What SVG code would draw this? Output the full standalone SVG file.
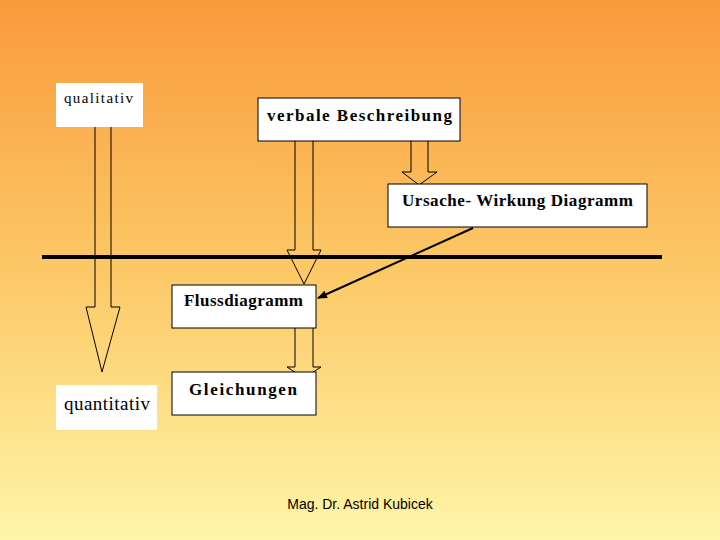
<svg xmlns="http://www.w3.org/2000/svg" width="720" height="540" viewBox="0 0 720 540">
<defs>
<linearGradient id="bg" x1="0" y1="0" x2="0" y2="1">
<stop offset="0" stop-color="#f99a3c"/>
<stop offset="0.5" stop-color="#fcc866"/>
<stop offset="1" stop-color="#fff5a8"/>
</linearGradient>
<marker id="ah" markerWidth="10" markerHeight="8" refX="9" refY="4" orient="auto" markerUnits="userSpaceOnUse">
<path d="M0,0 L10,4 L0,8 z" fill="#000"/>
</marker>
<style>
.box{fill:#fff;stroke:#000;stroke-width:1}
.nb{fill:#fff}
.blk{fill:none;stroke:#000;stroke-width:1}
.t{font-family:"Liberation Serif",serif;fill:#000}
.b{font-weight:bold;font-size:17px}
</style>
</defs>
<rect width="720" height="540" fill="url(#bg)"/>
<g id="connectors">
<path class="blk" d="M95,127 V307 H86 L102,372 L120,307 H111 V127"/>
<path class="blk" d="M295,141 V250 H287 L304,284 L321,250 H313 V141"/>
<path class="blk" d="M411,141 V172 H402 L419,185 L437,172 H428 V141"/>
<path class="blk" d="M295,328 V367 H287 L304,378 L321,367 H313 V328"/>
<line x1="42" y1="257" x2="662" y2="257" stroke="#000" stroke-width="4"/>
<line x1="473" y1="228" x2="318" y2="298" stroke="#000" stroke-width="2" marker-end="url(#ah)"/>
</g>
<g id="qualitativ"><rect class="nb" x="56" y="83" width="87" height="44"/><text class="t" x="64" y="103" font-size="15" textLength="69" lengthAdjust="spacing">qualitativ</text></g>
<g id="verbale"><rect class="box" x="258" y="98" width="202" height="43"/><text class="t b" x="267" y="121" textLength="185" lengthAdjust="spacing">verbale Beschreibung</text></g>
<g id="ursache"><rect class="box" x="388" y="184" width="259" height="43"/><text class="t b" x="402" y="206" textLength="231" lengthAdjust="spacing">Ursache- Wirkung Diagramm</text></g>
<g id="fluss"><rect class="box" x="172" y="285" width="144" height="43"/><text class="t b" x="184" y="306" textLength="119" lengthAdjust="spacing">Flussdiagramm</text></g>
<g id="gleich"><rect class="box" x="172" y="372" width="144" height="43"/><text class="t b" x="189" y="395" font-size="19" textLength="108" lengthAdjust="spacing">Gleichungen</text></g>
<g id="quantitativ"><rect class="nb" x="56" y="385" width="101" height="45"/><text class="t" x="64" y="410" font-size="19" textLength="86" lengthAdjust="spacing">quantitativ</text></g>
<text x="360" y="509" text-anchor="middle" font-family="Liberation Sans,sans-serif" font-size="14">Mag. Dr. Astrid Kubicek</text>
</svg>
